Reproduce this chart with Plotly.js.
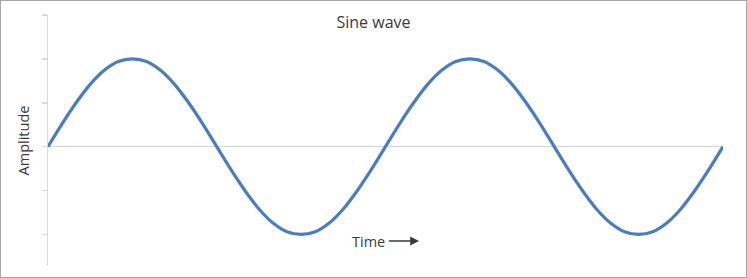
<!DOCTYPE html>
<html>
<head>
<meta charset="utf-8">
<script src="https://cdn.plot.ly/plotly-3.0.1.min.js"></script>
<style>
  html, body { margin: 0; padding: 0; background: #fff; }
  #wrap { position: relative; width: 747px; height: 278px; }
  #chart { position: absolute; left: 0; top: 0; width: 747px; height: 278px; }
  #frame { position: absolute; left: 0; top: 0; width: 747px; height: 278px; box-sizing: border-box; border: 1px solid #a6a6a6; pointer-events: none; }
</style>
</head>
<body>
<div id="wrap">
  <div id="chart"></div>
  <div id="frame"></div>
</div>
<script>
// Time in periods (two full cycles), sampled every 1/24 period
const time = [0, 0.0417, 0.0833, 0.125, 0.1667, 0.2083, 0.25, 0.2917, 0.3333, 0.375, 0.4167, 0.4583,
              0.5, 0.5417, 0.5833, 0.625, 0.6667, 0.7083, 0.75, 0.7917, 0.8333, 0.875, 0.9167, 0.9583,
              1, 1.0417, 1.0833, 1.125, 1.1667, 1.2083, 1.25, 1.2917, 1.3333, 1.375, 1.4167, 1.4583,
              1.5, 1.5417, 1.5833, 1.625, 1.6667, 1.7083, 1.75, 1.7917, 1.8333, 1.875, 1.9167, 1.9583, 2];
// Amplitude
const amplitude = [0, 0.26, 0.5, 0.71, 0.87, 0.97, 1.0, 0.97, 0.87, 0.71, 0.5, 0.26,
                   0, -0.26, -0.5, -0.71, -0.87, -0.97, -1.0, -0.97, -0.87, -0.71, -0.5, -0.26,
                   0, 0.26, 0.5, 0.71, 0.87, 0.97, 1.0, 0.97, 0.87, 0.71, 0.5, 0.26,
                   0, -0.26, -0.5, -0.71, -0.87, -0.97, -1.0, -0.97, -0.87, -0.71, -0.5, -0.26, 0];
const yTicks = [-1, -0.5, 0, 0.5, 1, 1.5];

const trace = {
  x: time, y: amplitude, type: 'scatter', mode: 'lines',
  line: { color: '#4a7dc0', width: 3.2, shape: 'spline', smoothing: 1 },
  hoverinfo: 'skip'
};

const layout = {
  width: 747, height: 278,
  margin: { l: 48, r: 24, t: 15, b: 12 },
  paper_bgcolor: '#fff', plot_bgcolor: '#fff',
  showlegend: false,
  font: { family: 'Open Sans, sans-serif', color: '#3a3a3a' },
  title: { text: 'Sine wave', x: 0.5, xref: 'container', xanchor: 'center',
           y: 1 - 22/278, yref: 'container', yanchor: 'middle',
           font: { size: 16, color: '#3a3a3a', family: 'Open Sans, sans-serif' } },
  xaxis: { range: [0, 2], showgrid: false, zeroline: false, showline: false,
           showticklabels: false, ticks: '', fixedrange: true },
  yaxis: { range: [-1.36, 1.5], showgrid: false, zeroline: true, zerolinecolor: '#d4d4d4', zerolinewidth: 1.5,
           showline: true, linecolor: '#d9d9d9', linewidth: 1.5,
           tickvals: yTicks, ticks: 'outside', ticklen: 5, tickcolor: '#d9d9d9', tickwidth: 1.5,
           showticklabels: false, fixedrange: true,
           title: { text: 'Amplitude', standoff: 8, font: { size: 14.5, color: '#3a3a3a' } } },
  annotations: [
    { xref: 'paper', yref: 'paper', x: (419-48)/675, y: (266-241)/251,
      text: 'Time', showarrow: true, ax: -50, ay: 0,
      arrowhead: 2, arrowsize: 1.1, arrowwidth: 1.6, arrowcolor: '#3a3a3a', standoff: 0, startstandoff: 2,
      font: { size: 14.5, color: '#3a3a3a', family: 'Open Sans, sans-serif' } }
  ]
};

Plotly.newPlot('chart', [trace], layout, { displayModeBar: false, staticPlot: true });
</script>
</body>
</html>
